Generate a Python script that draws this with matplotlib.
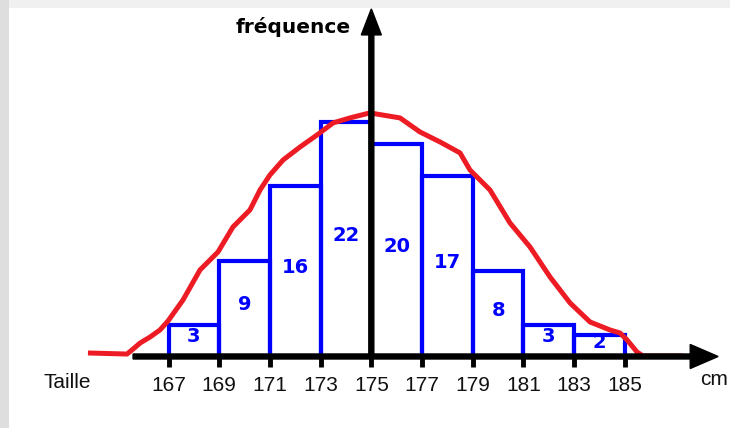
import matplotlib
matplotlib.use("Agg")
import matplotlib.pyplot as plt
from matplotlib.patches import Rectangle

# ---- data ----
bin_edges = [167, 169, 171, 173, 175, 177, 179, 181, 183, 185]
frequencies = [3, 9, 16, 22, 20, 17, 8, 3, 2]
tick_labels = ["167", "169", "171", "173", "175", "177", "179", "181", "183", "185"]

# hand-drawn red curve (cm, frequency)
curve_x = [163.82, 165.36, 165.60, 165.88, 166.27, 166.66, 166.98, 167.57, 168.24,
           168.95, 169.54, 170.21, 170.61, 171.00, 171.52, 172.19, 172.86, 173.49,
           174.16, 174.94, 176.13, 176.92, 177.71, 178.50, 178.89, 179.68, 180.47,
           181.26, 182.05, 182.84, 183.63, 184.42, 184.81, 185.09, 185.48, 185.72,
           187.30]
curve_y = [0.33, 0.23, 0.70, 1.27, 1.83, 2.49, 3.34, 5.31, 8.13,
           9.82, 12.17, 13.77, 15.65, 17.06, 18.47, 19.69, 20.82, 21.95,
           22.42, 22.89, 22.42, 21.10, 20.16, 19.13, 17.53, 15.65, 12.55,
           10.29, 7.47, 5.03, 3.24, 2.49, 2.21, 1.55, 0.42, 0.05,
           0.05]

W, H = 730, 428
fig = plt.figure(figsize=(W / 100, H / 100), dpi=100)
fig.patch.set_facecolor("#dedede")
fig.add_artist(Rectangle((9 / W, (H - 8) / H), 1, 8 / H, transform=fig.transFigure,
                         facecolor="#f0f0f0", edgecolor="none", zorder=0))
fig.add_artist(Rectangle((9 / W, 0), 1, (H - 8) / H, transform=fig.transFigure,
                         facecolor="white", edgecolor="none", zorder=0))

ax = fig.add_axes([0, 0, 1, 1])
ax.set_facecolor("none")
ax.axis("off")
ax.set_xlim(160.35, 189.15)
ax.set_ylim(-6.72, 33.5)

blue = "#0000ff"
red = "#ed1c24"

# bars
widths = [b - a for a, b in zip(bin_edges[:-1], bin_edges[1:])]
ax.bar(bin_edges[:-1], frequencies, width=widths, align="edge", fill=False,
       edgecolor=blue, linewidth=3.0, zorder=2)

# bar labels
centers = [a + w / 2 for a, w in zip(bin_edges[:-1], widths)]
for cx, f in zip(centers, frequencies):
    ax.text(cx, f / 2 + 0.35, str(f), color=blue, fontsize=14, fontweight="bold",
            family="DejaVu Sans", ha="center", va="center", zorder=5)

# red curve
ax.plot(curve_x, curve_y, color=red, linewidth=3.6, solid_capstyle="butt",
        solid_joinstyle="round", zorder=3)

# x axis with arrow
ax.arrow(165.6, 0, 188.68 - 165.6, 0, width=0.47, head_width=2.26, head_length=1.10,
         length_includes_head=True, color="black", zorder=4)
# y axis with arrow
ax.arrow(175, 0, 0, 32.66, width=0.197, head_width=0.79, head_length=2.44,
         length_includes_head=True, color="black", zorder=4)

# ticks
ax.vlines(bin_edges, -0.99, 0, color="black", linewidth=3.5, zorder=4)
for x, lab in zip(bin_edges, tick_labels):
    ax.text(x, -2.68, lab, fontsize=15, family="Liberation Sans", color="#111111",
            ha="center", va="center")

ax.text(163.0, -2.49, "Taille", fontsize=15, family="Liberation Sans", color="#111111",
        ha="center", va="center")
ax.text(187.96, -2.2, "cm", fontsize=15, family="Liberation Sans", color="#111111",
        ha="left", va="center")
ax.text(174.2, 30.4, "fréquence", fontsize=14.5, fontweight="bold", family="DejaVu Sans",
        color="black", ha="right", va="baseline")

fig.savefig("out.png", dpi=100, facecolor=fig.get_facecolor())
